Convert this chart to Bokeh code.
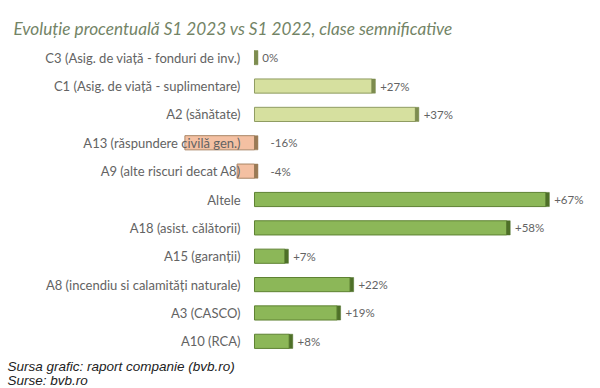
from bokeh.plotting import figure
from bokeh.models import Range1d, Title, ColumnDataSource
from bokeh.core.properties import value
from bokeh.embed import file_html
from bokeh.resources import INLINE
import numpy as np

categories = ["C3 (Asig. de viață - fonduri de inv.)",
              "C1 (Asig. de viață - suplimentare)",
              "A2 (sănătate)",
              "A13 (răspundere civilă gen.)",
              "A9 (alte riscuri decat A8)",
              "Altele",
              "A18 (asist. călătorii)",
              "A15 (garanții)",
              "A8 (incendiu si calamități naturale)",
              "A3 (CASCO)",
              "A10 (RCA)"]
values = [0, 27, 37, -16, -4, 67, 58, 7, 22, 19, 8]
value_labels = ["0%", "+27%", "+37%", "-16%", "-4%", "+67%", "+58%", "+7%", "+22%", "+19%", "+8%"]
groups = ["life", "life", "life", "neg", "neg", "main", "main", "main", "main", "main", "main"]
footer_lines = ["Sursa grafic: raport companie (bvb.ro)", "Surse: bvb.ro"]

fill_map = {"life": "#d6e09f", "neg": "#f4c0a2", "main": "#8cb758"}
edge_map = {"life": "#8f9c62", "neg": "#a98566", "main": "#5e8232"}
cap_map = {"life": "#7d8c4f", "neg": "#9a7a55", "main": "#4e7028"}

v = np.array(values, dtype=float)
y = np.arange(len(categories))
n = len(categories)

src = ColumnDataSource(dict(
    y=y,
    left=np.minimum(v, 0),
    right=np.maximum(v, 0),
    cap_l=np.maximum(v, 0),
    cap_r=np.maximum(v, 0) + 0.8,
    fill=[fill_map[g] for g in groups],
    edge=[edge_map[g] for g in groups],
    cap=[cap_map[g] for g in groups],
    cat=categories,
    lab=value_labels,
    lab_x=np.where(v > 0, v + 1.9, np.where(v < 0, 3.7, 1.8)),
))

p = figure(width=600, height=388, output_backend="svg", toolbar_location=None,
           x_range=Range1d(-58.4, 79.1), y_range=Range1d(n - 0.5, -0.5),
           min_border_left=0, min_border_right=2, min_border_top=43, min_border_bottom=30)
p.axis.visible = False
p.grid.visible = False
p.outline_line_color = None
p.background_fill_color = "white"
p.border_fill_color = "white"

p.title.text = "Evoluție procentuală S1 2023 vs S1 2022, clase semnificative"
p.title.text_font = "Lato"
p.title.text_font_style = "italic"
p.title.text_font_size = "17.2px"
p.title.text_color = "#738466"
p.title.offset = 13
p.title.standoff = 10

p.hbar(y="y", left="left", right="right", height=0.5, source=src,
       fill_color="fill", line_color="edge", line_width=1)
p.hbar(y="y", left="cap_l", right="cap_r", height=0.5, source=src,
       fill_color="cap", line_color="cap", line_width=0.5)

p.text(x=-3.2, y="y", text="cat", source=src, text_align="right", text_baseline="middle",
       text_font=value("Lato"), text_font_size="13px", text_color="#636363")
p.text(x="lab_x", y="y", text="lab", source=src, text_align="left", text_baseline="middle",
       text_font=value("Lato"), text_font_size="11.5px", text_color="#636363")

p.add_layout(Title(text="\n".join(footer_lines), align="left", text_font="Liberation Sans",
                   text_font_style="italic", text_font_size="13.5px", text_color="#222222",
                   offset=7, standoff=2, text_line_height=0.9), "below")

open("out.html", "w").write(file_html(p, INLINE))
